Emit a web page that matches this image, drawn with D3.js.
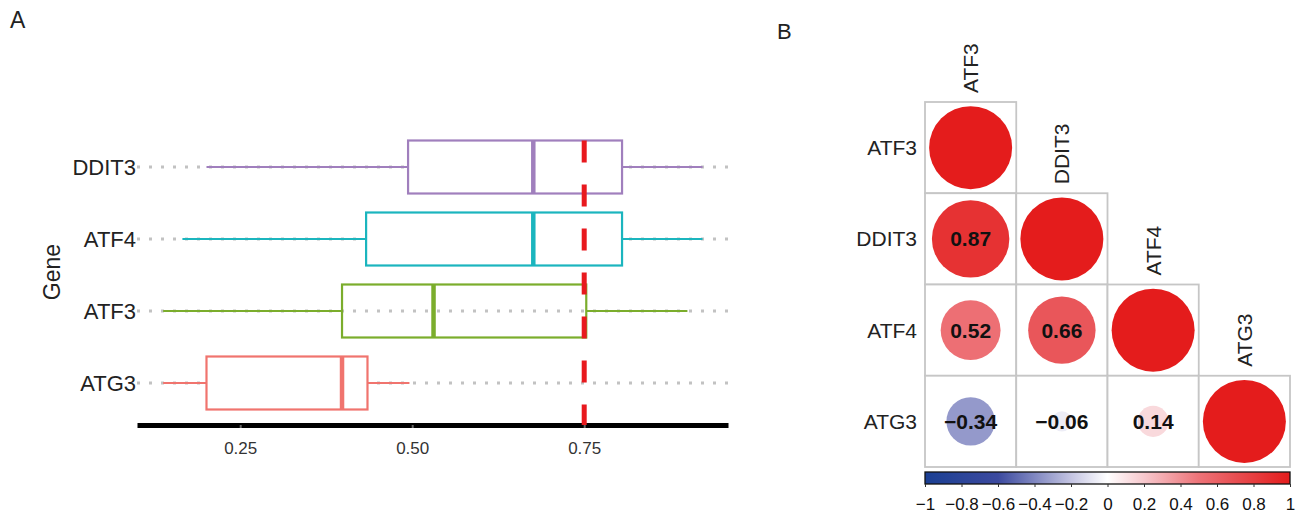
<!DOCTYPE html>
<html>
<head>
<meta charset="utf-8">
<script src="https://cdn.jsdelivr.net/npm/d3@7"></script>
<style>
  body { margin: 0; background: #fff; }
  text { font-family: "Liberation Sans", Arial, sans-serif; }
</style>
</head>
<body>
<svg width="1302" height="516"></svg>
<script>
// ---- Panel A : boxplots
const genesA = ["DDIT3", "ATF4", "ATF3", "ATG3"];
const whiskerLow = [0.201, 0.166, 0.138, 0.138];
const q1 = [0.494, 0.433, 0.398, 0.201];
const median = [0.676, 0.676, 0.531, 0.398];
const q3 = [0.805, 0.805, 0.753, 0.435];
const whiskerHigh = [0.922, 0.922, 0.900, 0.496];
const boxColors = ["#a07fbd", "#1bb5be", "#7bad2c", "#f0746e"];
const xTicks = [0.25, 0.5, 0.75];
const cutoff = 0.75;

// ---- Panel B : correlation matrix
const genesB = ["ATF3", "DDIT3", "ATF4", "ATG3"];
const corr = [
  [1],
  [0.87, 1],
  [0.52, 0.66, 1],
  [-0.34, -0.06, 0.14, 1]
];
const cbTicks = [-1, -0.8, -0.6, -0.4, -0.2, 0, 0.2, 0.4, 0.6, 0.8, 1];

const svg = d3.select("svg");

/* ---------------- A ---------------- */
svg.append("text").attr("x", 10).attr("y", 28).attr("font-size", 23).attr("fill", "#222").text("A");

const x = d3.scaleLinear().domain([0.1, 0.959]).range([137, 728]);
const y = d3.scalePoint().domain(genesA).range([167, 383]);
const half = 26.5;

const boxes = genesA.map((g, i) => ({
  gene: g, lo: whiskerLow[i], q1: q1[i], med: median[i], q3: q3[i], hi: whiskerHigh[i], color: boxColors[i]
}));

const gA = svg.append("g");

// un groupe par gène : pointillés, moustaches, boîte, médiane
const bg = gA.selectAll("g.box").data(boxes).enter().append("g");

bg.append("line")
  .attr("x1", x.range()[0]).attr("x2", x.range()[1])
  .attr("y1", d => y(d.gene)).attr("y2", d => y(d.gene))
  .attr("stroke", "#c2c2c2").attr("stroke-width", 3)
  .attr("stroke-dasharray", "3,9");

bg.append("line")
  .attr("x1", d => x(d.lo)).attr("x2", d => x(d.q1))
  .attr("y1", d => y(d.gene)).attr("y2", d => y(d.gene))
  .attr("stroke", d => d.color).attr("stroke-width", 2.2);
bg.append("line")
  .attr("x1", d => x(d.q3)).attr("x2", d => x(d.hi))
  .attr("y1", d => y(d.gene)).attr("y2", d => y(d.gene))
  .attr("stroke", d => d.color).attr("stroke-width", 2.2);

bg.append("rect")
  .attr("x", d => x(d.q1)).attr("width", d => x(d.q3) - x(d.q1))
  .attr("y", d => y(d.gene) - half).attr("height", 2 * half)
  .attr("fill", d => d.gene === "ATF3" ? "none" : "#fff")
  .attr("stroke", d => d.color).attr("stroke-width", 2.2);

bg.append("line")
  .attr("x1", d => x(d.med)).attr("x2", d => x(d.med))
  .attr("y1", d => y(d.gene) - half).attr("y2", d => y(d.gene) + half)
  .attr("stroke", d => d.color).attr("stroke-width", 4.5);

// étiquettes des gènes
gA.selectAll("text.gene").data(genesA).enter().append("text")
  .attr("x", 136).attr("y", d => y(d)).attr("dy", "0.36em")
  .attr("text-anchor", "end").attr("font-size", 22).attr("fill", "#222")
  .text(d => d);

svg.append("text")
  .attr("transform", "translate(60,272) rotate(-90)")
  .attr("text-anchor", "middle").attr("font-size", 23).attr("fill", "#222")
  .text("Gene");

// axe x
const xAxis = gA.append("g").attr("transform", "translate(0,425)")
  .call(d3.axisBottom(x).tickValues(xTicks).tickSize(3).tickSizeOuter(0).tickFormat(d3.format(".2f")));
xAxis.select(".domain").attr("stroke", "#000").attr("stroke-width", 5);
xAxis.selectAll(".tick line").attr("stroke", "#666").attr("stroke-width", 2);
xAxis.selectAll(".tick text").attr("font-size", 17).attr("fill", "#333").attr("dy", "1.35em")
  .style("font-family", "'Liberation Sans', Arial, sans-serif");

// seuil rouge
gA.append("line")
  .attr("x1", x(cutoff)).attr("x2", x(cutoff))
  .attr("y1", y("DDIT3") - half).attr("y2", 425)
  .attr("stroke", "#e8191e").attr("stroke-width", 5)
  .attr("stroke-dasharray", "22,22");

/* ---------------- B ---------------- */
svg.append("text").attr("x", 777).attr("y", 39).attr("font-size", 22).attr("fill", "#222").text("B");

const col = d3.scaleBand().domain(genesB).range([925, 1290]);
const row = d3.scaleBand().domain(genesB).range([102, 467]);
const rad = d3.scaleSqrt().domain([0, 1]).range([0, 41.5]);
const color = d3.scaleLinear()
  .domain([-1, -0.6, -0.2, 0, 0.2, 0.5, 0.7, 1])
  .range(["#1b3f93", "#3c4a9f", "#c4c4e2", "#ffffff", "#f7c8cd", "#ed7378", "#e84f52", "#e41c1c"]);

const cells = [];
corr.forEach((r, i) => r.forEach((v, j) => cells.push({ r: genesB[i], c: genesB[j], v: v, diag: i === j })));

const gB = svg.append("g");
gB.selectAll("rect.cell").data(cells).enter().append("rect")
  .attr("x", d => col(d.c)).attr("y", d => row(d.r))
  .attr("width", col.bandwidth()).attr("height", row.bandwidth())
  .attr("fill", "#fff").attr("stroke", "#c6c6c6").attr("stroke-width", 1.8);

gB.selectAll("circle").data(cells).enter().append("circle")
  .attr("cx", d => col(d.c) + col.bandwidth() / 2)
  .attr("cy", d => row(d.r) + row.bandwidth() / 2)
  .attr("r", d => rad(Math.abs(d.v)))
  .attr("fill", d => color(d.v));

gB.selectAll("text.val").data(cells.filter(d => !d.diag)).enter().append("text")
  .attr("x", d => col(d.c) + col.bandwidth() / 2)
  .attr("y", d => row(d.r) + row.bandwidth() / 2).attr("dy", "0.36em")
  .attr("text-anchor", "middle").attr("font-size", 21).attr("font-weight", "bold").attr("fill", "#111")
  .text(d => d3.format(".2f")(d.v));

// étiquettes lignes
gB.selectAll("text.row").data(genesB).enter().append("text")
  .attr("x", 917).attr("y", d => row(d) + row.bandwidth() / 2).attr("dy", "0.36em")
  .attr("text-anchor", "end").attr("font-size", 21).attr("fill", "#222")
  .text(d => d);

// étiquettes colonnes (au-dessus de la diagonale)
gB.selectAll("text.col").data(genesB).enter().append("text")
  .attr("transform", d => "translate(" + (col(d) + col.bandwidth() / 2) + "," + (row(d) - 9) + ") rotate(-90)")
  .attr("dy", "0.36em").attr("font-size", 21).attr("fill", "#222")
  .text(d => d);

// barre de couleur
const cb = d3.scaleLinear().domain([-1, 1]).range([925, 1290]);
const grad = svg.append("defs").append("linearGradient").attr("id", "cbgrad");
d3.range(0, 1.0001, 0.05).forEach(t => {
  grad.append("stop").attr("offset", t).attr("stop-color", color(-1 + 2 * t));
});
svg.append("rect").attr("x", 925).attr("y", 472).attr("width", 365).attr("height", 12)
  .attr("fill", "url(#cbgrad)").attr("stroke", "#111").attr("stroke-width", 1.3);

const cbAxis = svg.append("g").attr("transform", "translate(0,484)")
  .call(d3.axisBottom(cb).tickValues(cbTicks).tickSize(3).tickSizeOuter(0).tickFormat(d3.format("~g")));
cbAxis.select(".domain").remove();
cbAxis.selectAll(".tick line").attr("stroke", "#333");
cbAxis.selectAll(".tick text").attr("font-size", 17).attr("fill", "#111").attr("dy", "1.2em")
  .style("font-family", "'Liberation Sans', Arial, sans-serif");
</script>
</body>
</html>
